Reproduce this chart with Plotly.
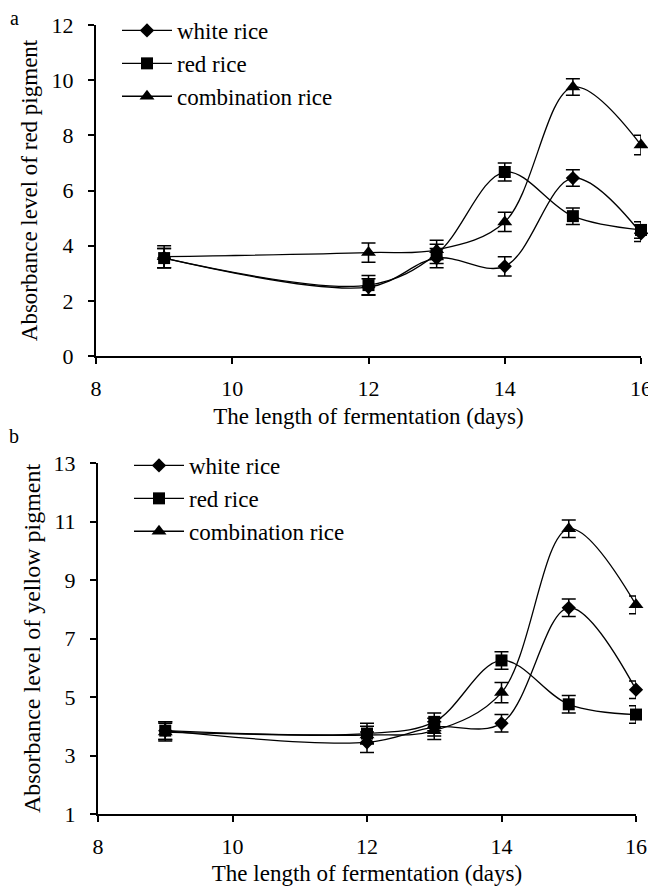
import plotly.graph_objects as go

days = [9, 12, 13, 14, 15, 16]

# Panel a: red pigment
red_white = [3.55, 2.5, 3.55, 3.25, 6.45, 4.45]
red_red = [3.55, 2.57, 3.7, 6.67, 5.07, 4.57]
red_comb = [3.6, 3.75, 3.85, 4.86, 9.75, 7.65]
red_white_err = [0.35, 0.3, 0.35, 0.35, 0.3, 0.3]
red_red_err = [0.35, 0.35, 0.35, 0.33, 0.3, 0.3]
red_comb_err = [0.4, 0.35, 0.35, 0.35, 0.3, 0.35]

# Panel b: yellow pigment
yel_white = [3.85, 3.45, 3.97, 4.1, 8.05, 5.25]
yel_red = [3.85, 3.75, 4.15, 6.25, 4.75, 4.4]
yel_comb = [3.8, 3.7, 3.85, 5.15, 10.75, 8.15]
yel_white_err = [0.3, 0.35, 0.3, 0.3, 0.3, 0.3]
yel_red_err = [0.3, 0.35, 0.3, 0.3, 0.3, 0.3]
yel_comb_err = [0.3, 0.3, 0.3, 0.35, 0.3, 0.3]

names = ["white rice", "red rice", "combination rice"]
symbols = ["diamond", "square", "triangle-up"]
msizes = [11, 12, 13]

FONT = '"Liberation Serif", "Times New Roman", Times, serif'

# page has an 8px body margin; figure sized to fit the window
OFF = 8
W, H = 648, 880


def px_x(p):
    return (p - OFF) / W


def px_y(p):
    return (H - (p - OFF)) / H


fig = go.Figure()


def add_panel(vals, errs, xa, ya, legend):
    for i, (v, e) in enumerate(zip(vals, errs)):
        fig.add_trace(go.Scatter(
            x=days, y=v, name=names[i], mode="lines+markers",
            xaxis=xa, yaxis=ya, legend=legend, legendgroup=legend + str(i),
            cliponaxis=False,
            line=dict(color="black", width=1.3, shape="spline", smoothing=1),
            marker=dict(symbol=symbols[i], size=msizes[i], color="black"),
            error_y=dict(type="data", array=e, visible=True, color="black",
                         thickness=1.5, width=7),
        ))


add_panel([red_white, red_red, red_comb],
          [red_white_err, red_red_err, red_comb_err], "x", "y", "legend")
add_panel([yel_white, yel_red, yel_comb],
          [yel_white_err, yel_red_err, yel_comb_err], "x2", "y2", "legend2")

axis_common = dict(showline=True, linecolor="black", linewidth=2,
                   ticks="outside", ticklen=6, tickwidth=2, tickcolor="black",
                   showgrid=False, zeroline=False, automargin=False,
                   tickfont=dict(family=FONT, size=22, color="black"))
xcommon = dict(axis_common, ticklabelstandoff=6)
ycommon = dict(axis_common, ticklabelstandoff=10)
TS = 23

fig.update_layout(
    width=W, height=H,
    margin=dict(l=0, r=0, t=0, b=0, autoexpand=False),
    paper_bgcolor="white", plot_bgcolor="white",
    font=dict(family=FONT, size=22, color="black"),
    xaxis=dict(domain=[px_x(96), px_x(641)], anchor="y", range=[8, 16], dtick=2,
               title=dict(text="The length of fermentation (days)",
                          font=dict(family=FONT, size=TS), standoff=7),
               **xcommon),
    yaxis=dict(domain=[px_y(356), px_y(25)], anchor="x", range=[0, 12],
               dtick=2,
               title=dict(text="Absorbance level of red pigment",
                          font=dict(family=FONT, size=TS), standoff=8),
               **ycommon),
    xaxis2=dict(domain=[px_x(98), px_x(636)], anchor="y2", range=[8, 16], dtick=2,
                title=dict(text="The length of fermentation (days)",
                           font=dict(family=FONT, size=TS), standoff=6),
                **xcommon),
    yaxis2=dict(domain=[px_y(814), px_y(463)], anchor="x2",
                range=[1, 13], tick0=1, dtick=2,
                title=dict(text="Absorbance level of yellow pigment",
                           font=dict(family=FONT, size=24), standoff=6),
                **ycommon),
    legend=dict(x=px_x(117), y=px_y(9), xanchor="left", yanchor="top",
                bgcolor="rgba(0,0,0,0)", font=dict(family=FONT, size=23),
                tracegroupgap=0, itemwidth=50),
    legend2=dict(x=px_x(129), y=px_y(444), xanchor="left", yanchor="top",
                 bgcolor="rgba(0,0,0,0)", font=dict(family=FONT, size=23),
                 tracegroupgap=0, itemwidth=50),
    annotations=[
        dict(text="a", x=px_x(14), y=px_y(18), xref="paper", yref="paper",
             xanchor="center", yanchor="middle",
             showarrow=False, font=dict(family=FONT, size=20)),
        dict(text="b", x=px_x(14), y=px_y(436), xref="paper", yref="paper",
             xanchor="center", yanchor="middle",
             showarrow=False, font=dict(family=FONT, size=20)),
    ],
)

fig.write_html("out.html")
